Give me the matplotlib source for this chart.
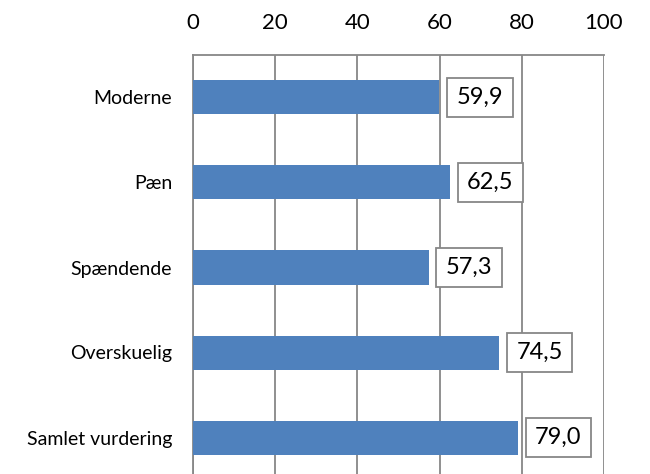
import matplotlib
matplotlib.use("Agg")
import matplotlib.pyplot as plt

plt.rcParams['font.family'] = ['Lato', 'DejaVu Sans']

# data
categories = ["Moderne", "Pæn", "Spændende", "Overskuelig", "Samlet vurdering"]
values = [59.9, 62.5, 57.3, 74.5, 79.0]
xticks = [0, 20, 40, 60, 80, 100]

bar_color = "#4F81BD"
grid_color = "#878787"

fig = plt.figure(figsize=(6.5, 4.74), dpi=100)
ax = fig.add_axes([193 / 650, -6 / 474, 411 / 650, 425 / 474])

ypos = list(range(len(categories)))
ax.barh(ypos, values, height=0.4, color=bar_color, zorder=3)

ax.set_xlim(0, 100)
ax.set_ylim(len(categories) - 0.5, -0.5)
ax.set_xticks(xticks)
ax.set_xticklabels([str(t) for t in xticks], fontsize=16)
ax.xaxis.tick_top()
ax.tick_params(axis='x', length=0, pad=16)
ax.set_yticks(ypos)
ax.set_yticklabels(categories, fontsize=14)
ax.tick_params(axis='y', length=0, pad=15)

ax.grid(axis='x', color=grid_color, linewidth=1.3, zorder=0)
for side in ['left', 'top']:
    ax.spines[side].set_color(grid_color)
    ax.spines[side].set_linewidth(1.3)
for side in ['right', 'bottom']:
    ax.spines[side].set_visible(False)

# value labels in boxes
for y, v in zip(ypos, values):
    label = f"{v:.1f}".replace(".", ",")
    ax.annotate(label, xy=(v, y), xytext=(12.5, 0), textcoords='offset points',
                ha='left', va='center', fontsize=17, zorder=4,
                bbox=dict(boxstyle='square,pad=0.4', facecolor='white',
                          edgecolor=grid_color, linewidth=1.3))

fig.savefig("out.png", dpi=100)
